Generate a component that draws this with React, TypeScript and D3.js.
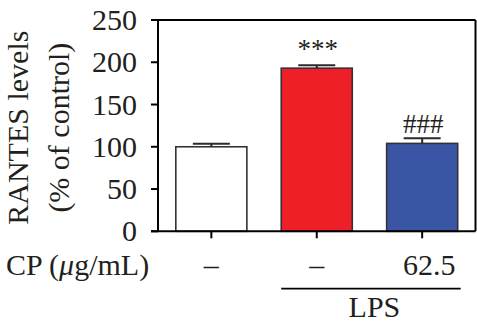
import React from "react";
import * as d3 from "d3";

const categories = ["Control", "LPS", "LPS+CP62.5"];
const values = [100, 193, 104];
const errors = [3.5, 3.5, 6];
const cpLabels = ["–", "–", "62.5"];
const barColors = ["#ffffff", "#ee1f27", "#3a55a4"];
const yTicks = [0, 50, 100, 150, 200, 250];
const markers = ["", "***", "###"];

const W = 477;
const H = 331;
const SERIF = "Liberation Serif";

function T(props: any) {
  const { children, ...rest } = props;
  return (
    <text fontFamily={SERIF} fill="#231f20" {...rest} style={{ fontFamily: SERIF }}>
      {children}
    </text>
  );
}

export default function App() {
  const left = 158;
  const right = 475.5;
  const top = 20;
  const bottom = 231.3;

  const y = d3.scaleLinear().domain([0, 250]).range([bottom, top]);
  const x = d3
    .scaleBand<string>()
    .domain(categories)
    .range([left, right])
    .paddingInner(0.326)
    .paddingOuter(0.169);
  const bw = x.bandwidth();
  const capW = 37;

  return (
    <div style={{ fontFamily: SERIF, position: "absolute", left: 0, top: 0 }}>
      <svg width={W} height={H} style={{ display: "block" }}>
        {categories.map((c, i) => (
          <rect
            key={c}
            x={x(c)!}
            y={y(values[i])}
            width={bw}
            height={y(0) - y(values[i])}
            fill={barColors[i]}
            stroke="#333"
            strokeWidth={1.6}
          />
        ))}
        {categories.map((c, i) => {
          const cx = x(c)! + bw / 2;
          const yt = y(values[i] + errors[i]);
          return (
            <g key={"e" + c} stroke="#2a2a2a" strokeWidth={2}>
              <line x1={cx} x2={cx} y1={y(values[i])} y2={yt} />
              <line x1={cx - capW / 2} x2={cx + capW / 2} y1={yt} y2={yt} />
            </g>
          );
        })}
        <g stroke="#000" strokeWidth={2} fill="none">
          <line x1={left} x2={left} y1={top} y2={bottom} />
          <line x1={left - 7} x2={right} y1={bottom} y2={bottom} />
          <line x1={left} x2={right} y1={top} y2={top} />
          <line x1={right} x2={right} y1={top} y2={bottom} />
          {yTicks.map((t) => (
            <line key={t} x1={left - 7} x2={left} y1={y(t)} y2={y(t)} />
          ))}
          {categories.map((c) => (
            <line
              key={c}
              x1={x(c)! + bw / 2}
              x2={x(c)! + bw / 2}
              y1={bottom}
              y2={bottom + 7}
            />
          ))}
        </g>
        {yTicks.map((t) => (
          <T key={t} x={left - 21} y={y(t) + 10} textAnchor="end" fontSize={30}>
            {t}
          </T>
        ))}
        <T
          transform={`translate(28, ${(top + bottom) / 2 + 2}) rotate(-90)`}
          textAnchor="middle"
          fontSize={30}
        >
          RANTES levels
        </T>
        <T
          transform={`translate(69, ${(top + bottom) / 2 + 2}) rotate(-90)`}
          textAnchor="middle"
          fontSize={30}
        >
          (% of control)
        </T>
        {categories.map((c, i) =>
          markers[i] ? (
            <T
              key={"m" + c}
              x={x(c)! + bw / 2 + 1}
              y={i === 1 ? 58 : 133}
              textAnchor="middle"
              fontSize={27}
            >
              {markers[i]}
            </T>
          ) : null
        )}
        <T x={6} y={275} fontSize={30}>
          CP (<tspan fontStyle="italic">μ</tspan>g/mL)
        </T>
        {categories.map((c, i) => (
          <T
            key={"cp" + c}
            x={x(c)! + bw / 2 + (i === 2 ? 7 : 0)}
            y={275}
            textAnchor="middle"
            fontSize={30}
          >
            {cpLabels[i]}
          </T>
        ))}
        <line
          x1={x(categories[1])!}
          x2={x(categories[2])! + bw + 3}
          y1={288.7}
          y2={288.7}
          stroke="#000"
          strokeWidth={1.8}
        />
        <T
          x={(x(categories[1])! + x(categories[2])! + bw) / 2 + 5}
          y={316.7}
          textAnchor="middle"
          fontSize={30}
        >
          LPS
        </T>
      </svg>
    </div>
  );
}
